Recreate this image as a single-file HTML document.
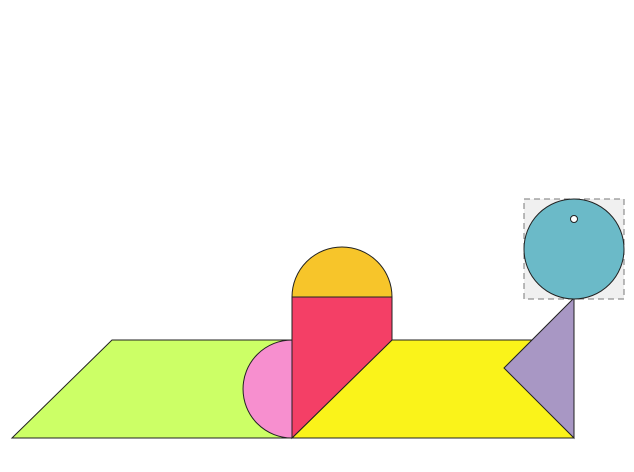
<!DOCTYPE html>
<html><head><meta charset="utf-8"><style>html,body{margin:0;padding:0;background:#fff;}svg{display:block}</style></head>
<body>
<svg width="634" height="472" viewBox="0 0 634 472">
<g stroke="#222" stroke-width="1">
<polygon points="12,438 112,340 292,340 292,438" fill="#ccff66"/>
<path d="M292,340 A49,49 0 0 0 292,438 Z" fill="#f78fcf"/>
<polygon points="292,438 392,340 574,340 574,438" fill="#faf31a"/>
<polygon points="574,298 504,368 574,438" fill="#a897c4"/>
<polygon points="292,297 392,297 392,340 292,438" fill="#f43f66"/>
<path d="M292,297 A50,50 0 0 1 392,297 Z" fill="#f7c52a"/>
<rect x="524" y="199" width="100" height="100" fill="#f0f0f0" stroke="#777" stroke-dasharray="6,4"/>
<circle cx="574" cy="249" r="50" fill="#6bbac8"/>
<circle cx="574" cy="219" r="3.5" fill="#fff"/>
</g>
</svg>
</body></html>
